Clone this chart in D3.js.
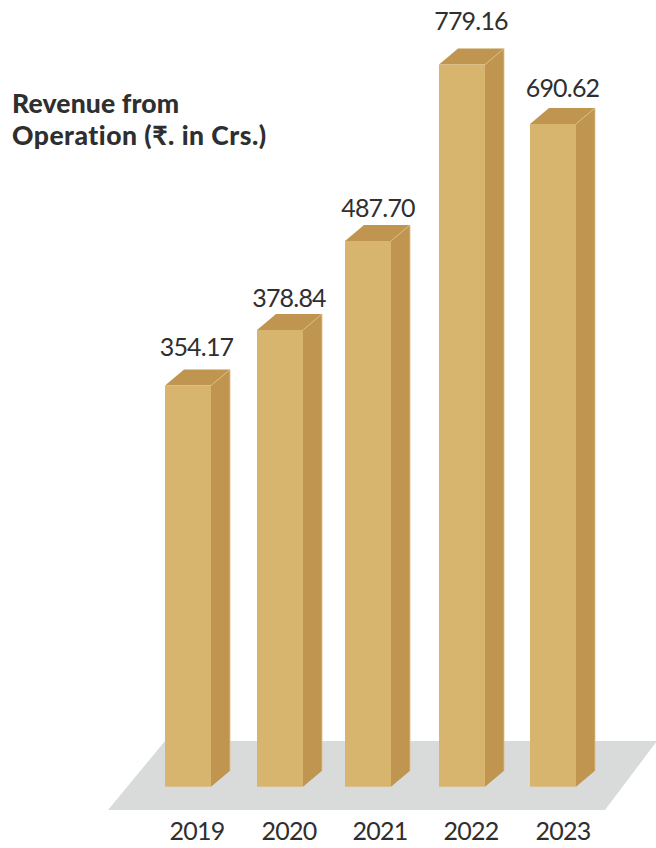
<!DOCTYPE html>
<html>
<head>
<meta charset="utf-8">
<script src="https://cdn.jsdelivr.net/npm/d3@7/dist/d3.min.js"></script>
<style>
html,body{margin:0;padding:0;background:#fff;}
svg{display:block;}
text{font-family:Lato,"Noto Sans",sans-serif;fill:#2f2f30;}
</style>
</head>
<body>
<svg id="chart" width="656" height="848"></svg>
<script>
const years = ["2019","2020","2021","2022","2023"];
const revenue = [354.17,378.84,487.70,779.16,690.62];
const valueLabels = ["354.17","378.84","487.70","779.16","690.62"];
const titleLines = ["Revenue from","Operation (₹. in Crs.)"];

const W=656,H=848, baseY=786.7, barW=46, depthX=19, depthY=16;
const svg=d3.select("#chart");

// The drawn bars are not strictly proportional, so the scale is calibrated piecewise.
const y=d3.scaleLinear()
  .domain([0,354.17,378.84,487.70,690.62,779.16])
  .range([baseY,385.5,330,241,124,64.5]);
const x=d3.scaleOrdinal().domain(years).range([165,257,345,439,530]);
const labelX=d3.scaleOrdinal().domain(years).range([197,289,380,471,563]);
const valueX=d3.scaleOrdinal().domain(years).range([196.5,289,378,471,562.5]);
const valueY=d3.scaleOrdinal().domain(years).range([355.5,307,217,29.5,97]);

const poly=p=>p.map(d=>d.join(",")).join(" ");
const data=years.map((yr,i)=>({yr,v:revenue[i],label:valueLabels[i]}));

svg.append("polygon")
  .attr("points",poly([[165,741],[657,741],[605,810],[108,810]]))
  .attr("fill","#d9dbda");

const g=svg.selectAll("g.bar").data(data).join("g").attr("class","bar");
g.append("polygon").attr("fill","#c09550")
  .attr("points",d=>{const l=x(d.yr),r=l+barW,t=y(d.v);
    return poly([[r,t],[r+depthX,t-depthY],[r+depthX,baseY-depthY],[r,baseY]]);});
g.append("polygon").attr("fill","#c09550")
  .attr("points",d=>{const l=x(d.yr),r=l+barW,t=y(d.v);
    return poly([[l,t],[l+depthX,t-depthY],[r+depthX,t-depthY],[r,t]]);});
g.append("rect").attr("fill","#d8b56e")
  .attr("x",d=>x(d.yr)).attr("y",d=>y(d.v))
  .attr("width",barW).attr("height",d=>baseY-y(d.v));
g.append("polyline").attr("fill","none").attr("stroke","#dcc08a").attr("stroke-width",0.8)
  .attr("points",d=>{const l=x(d.yr),r=l+barW,t=y(d.v);
    return poly([[r,t],[r+depthX,t-depthY],[r+depthX,baseY-depthY]]);});
g.append("text").attr("text-anchor","middle").attr("font-size",25).attr("letter-spacing",-0.8)
  .attr("x",d=>valueX(d.yr)).attr("y",d=>valueY(d.yr))
  .text(d=>d.label);
g.append("text").attr("text-anchor","middle").attr("font-size",25).attr("letter-spacing",-0.8)
  .attr("x",d=>labelX(d.yr)).attr("y",840)
  .text(d=>d.yr);

svg.selectAll("text.title").data(titleLines).join("text").attr("class","title")
  .attr("x",12).attr("y",(d,i)=>113+i*32)
  .attr("font-size",26.5).attr("font-weight",900)
  .attr("letter-spacing",(d,i)=>i?0.5:0.15)
  .text(d=>d);
</script>
</body>
</html>
